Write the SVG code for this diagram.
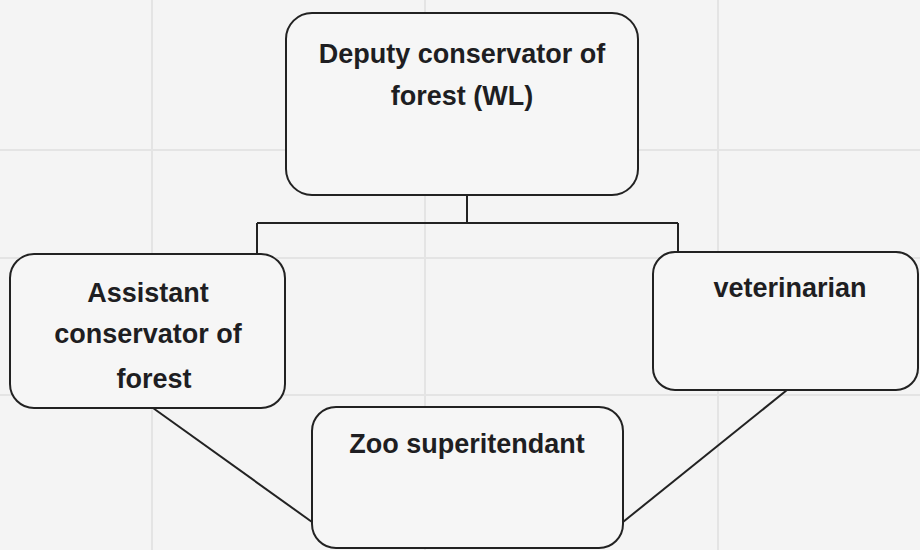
<svg xmlns="http://www.w3.org/2000/svg" width="920" height="550" viewBox="0 0 920 550">
  <style>
    .box { fill: #f6f6f6; stroke: #222; stroke-width: 2; }
    .lbl { font-family: "Liberation Sans", Arial, sans-serif; font-weight: bold; font-size: 27px; fill: #1e1e22; text-anchor: middle; }
    .conn { stroke: #222; stroke-width: 2; fill: none; }
    .grid { stroke: #e4e4e4; stroke-width: 2; fill: none; }
  </style>
  <rect x="0" y="0" width="920" height="550" fill="#f4f4f4"/>
  <g id="background-grid">
    <path class="grid" d="M152 0V550 M425 0V550 M718 0V550 M0 150H920 M0 258H920 M0 395H920"/>
  </g>
  <g id="connectors">
    <path class="conn" d="M467 195V223 M257 223H678 M257 223V254 M678 223V252"/>
    <path class="conn" d="M153 408L312 522"/>
    <path class="conn" d="M787 390L623 522"/>
  </g>
  <g id="node-deputy">
    <rect class="box" x="286" y="13" width="352" height="182" rx="26"/>
    <text class="lbl" x="462" y="63">Deputy conservator of</text>
    <text class="lbl" x="462" y="105">forest (WL)</text>
  </g>
  <g id="node-assistant">
    <rect class="box" x="10" y="254" width="275" height="154" rx="24"/>
    <text class="lbl" x="148" y="302">Assistant</text>
    <text class="lbl" x="148" y="343">conservator of</text>
    <text class="lbl" x="154" y="388">forest</text>
  </g>
  <g id="node-veterinarian">
    <rect class="box" x="653" y="252" width="265" height="138" rx="22"/>
    <text class="lbl" x="790" y="297">veterinarian</text>
  </g>
  <g id="node-zoo">
    <rect class="box" x="312" y="407" width="311" height="141" rx="24"/>
    <text class="lbl" x="467" y="453">Zoo superitendant</text>
  </g>
</svg>
